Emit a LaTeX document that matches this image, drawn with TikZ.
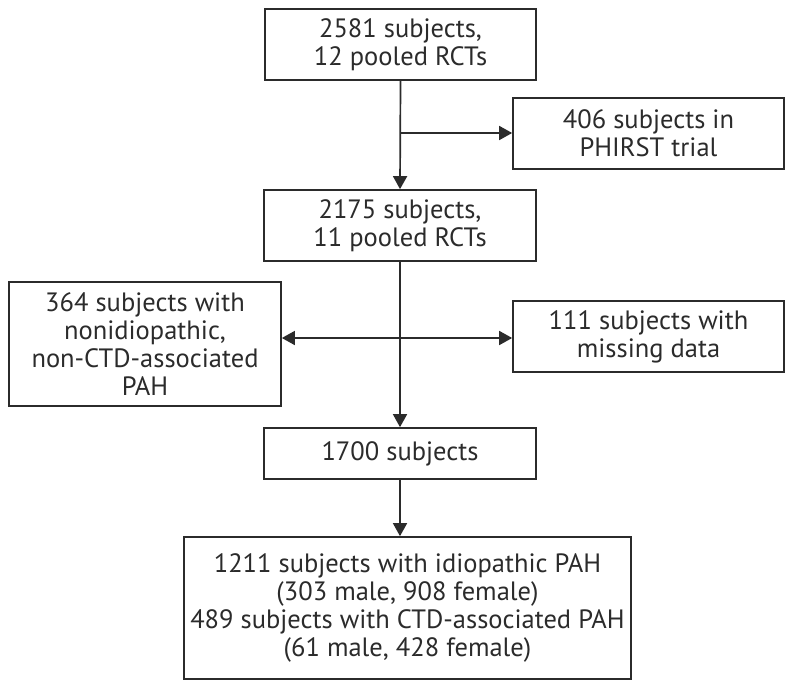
\documentclass[tikz,border=0pt]{standalone}
\usepackage{fontspec}
\setmainfont{PT Sans}
\usetikzlibrary{arrows.meta}
\definecolor{ink}{HTML}{2B2B2B}
\tikzset{
  box/.style={draw=ink, line width=1.7pt, text=ink, inner sep=0pt, align=center,
    font=\fontsize{26.5}{28}\selectfont},
  conn/.style={draw=ink, line width=1.7pt, -{Triangle[length=13pt,width=14pt]}}
}
\begin{document}
\begin{tikzpicture}[x=1pt,y=-1pt]
\useasboundingbox (0,0) rectangle (794,680);
\node[box, minimum width=271pt, minimum height=71pt] (b1) at (400.5,44.5) {2581 subjects,\\12 pooled RCTs};
\node[box, minimum width=271pt, minimum height=71pt] (b2) at (648.5,133.5) {406 subjects in\\PHIRST trial};
\node[box, minimum width=272pt, minimum height=71pt] (b3) at (400,225.5) {2175 subjects,\\11 pooled RCTs};
\node[box, minimum width=272pt, minimum height=124pt] (bl) at (145,344) {364 subjects with\\nonidiopathic,\\non-CTD-associated\\PAH};
\node[box, minimum width=271pt, minimum height=71pt] (br) at (648.5,336.5) {111 subjects with\\missing data};
\node[box, minimum width=272pt, minimum height=51pt] (b4) at (400,453.5) {1700 subjects};
\node[box, minimum width=447pt, minimum height=142pt] (b5) at (407.5,608) {1211 subjects with idiopathic PAH\\(303 male, 908 female)\\489 subjects with CTD-associated PAH\\(61 male, 428 female)};
\coordinate (j1) at (400,133);
\coordinate (j2) at (400,338);
\draw[conn] (b1.south) -- (b3.north);
\draw[conn] (j1) -- (j1 -| b2.west);
\draw[conn] (b3.south) -- (b4.north);
\draw[conn] (j2) -- (j2 -| bl.east);
\draw[conn] (j2) -- (j2 -| br.west);
\draw[conn] (b4.south) -- (b4.south |- b5.north);
\end{tikzpicture}
\end{document}
